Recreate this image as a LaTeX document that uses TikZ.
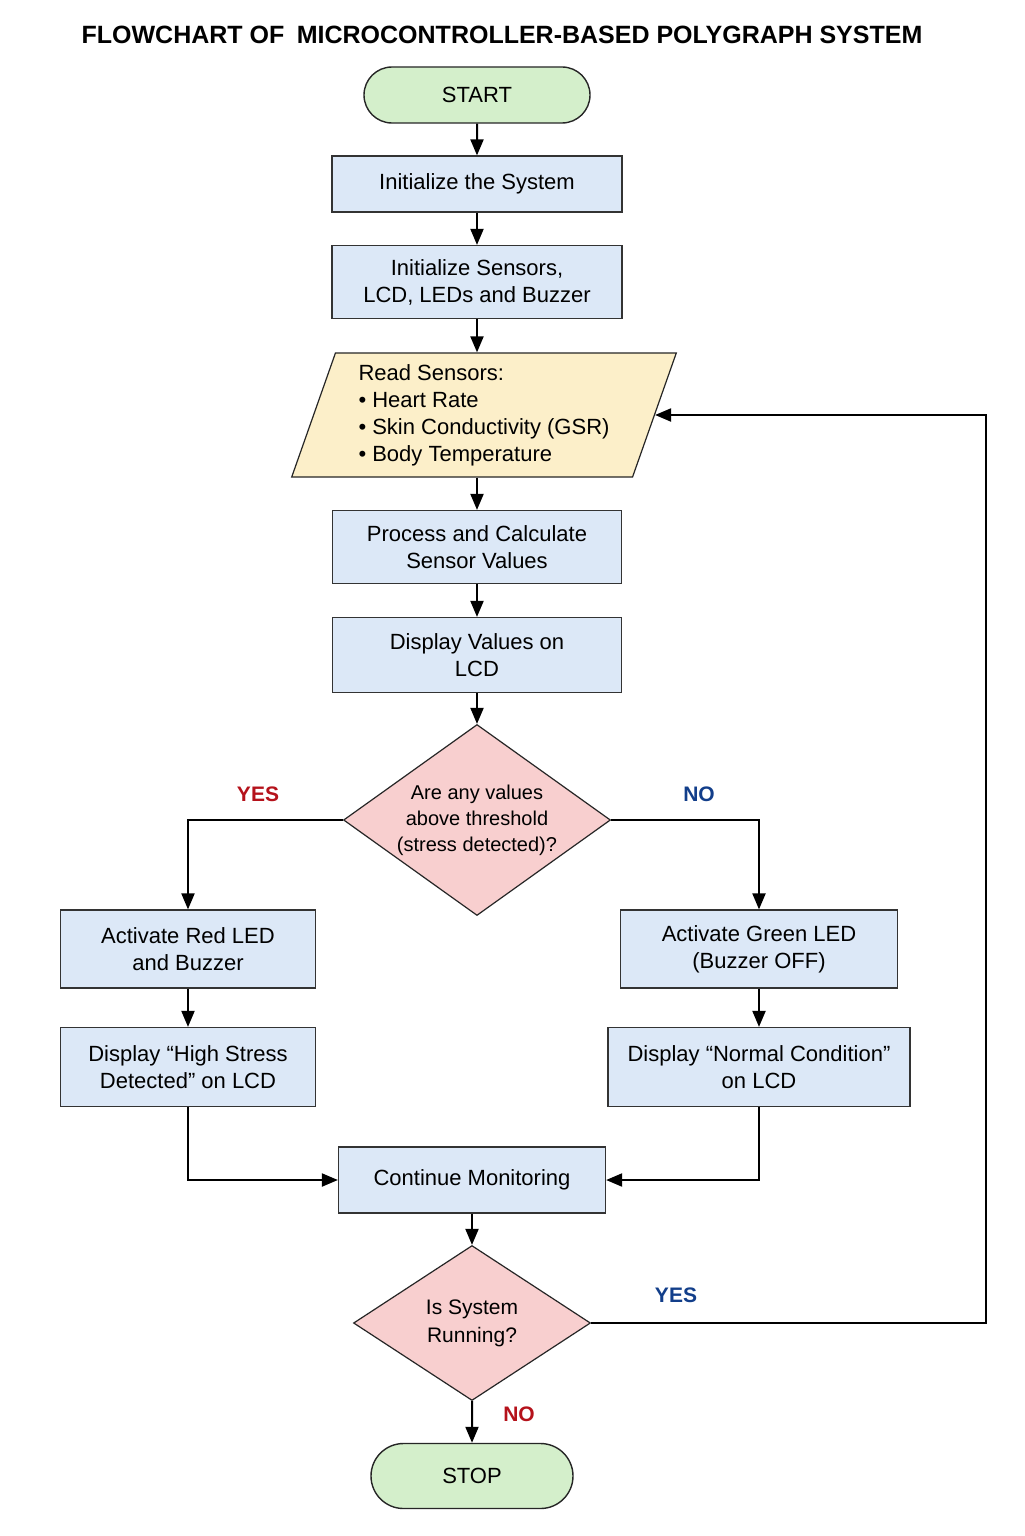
\documentclass[tikz,border=0pt]{standalone}
\usepackage{fontspec}
\setmainfont{Liberation Sans}
\usetikzlibrary{shapes.geometric,shapes.misc,arrows.meta}

\definecolor{procblue}{HTML}{DCE8F7}
\definecolor{inyellow}{HTML}{FCEFC9}
\definecolor{decpink}{HTML}{F8CFCF}
\definecolor{termgreen}{HTML}{D4EFCB}
\definecolor{yesred}{HTML}{B5121B}
\definecolor{noblue}{HTML}{123E8A}

\begin{document}
\begin{tikzpicture}[x=0.5pt,y=-0.5pt,
  every node/.style={font=\fontsize{11}{13.5}\selectfont},
  proc/.style={draw=black!80, line width=0.6pt, fill=procblue, align=center, inner sep=0pt},
  term/.style={rounded rectangle, draw=black!85, line width=0.7pt, fill=termgreen, inner sep=0pt},
  io/.style={trapezium, trapezium left angle=70, trapezium right angle=110, trapezium stretches=true,
    draw=black!85, line width=0.6pt, fill=inyellow, align=left, inner sep=0pt},
  dec/.style={diamond, aspect=1.4, draw=black!85, line width=0.6pt, fill=decpink, align=center,
    inner sep=0pt, font=\fontsize{10}{13}\selectfont},
  yes/.style={text=yesred, font=\bfseries\fontsize{10.5}{12}\selectfont},
  no/.style={text=noblue, font=\bfseries\fontsize{10.5}{12}\selectfont},
  line/.style={line width=1pt, -{Triangle[length=8pt,width=6.5pt]}}]
\fill[white] (0,0) rectangle (1024,1536);
\useasboundingbox (0,0) rectangle (1024,1536);

\node[font=\bfseries\fontsize{12.5}{15}\selectfont] (title) at (502,35)
  {FLOWCHART OF\enspace MICROCONTROLLER-BASED POLYGRAPH SYSTEM};

% main column
\node[term, minimum width=113pt, minimum height=28pt] (start) at (477,95) {START};
\node[proc, minimum width=145pt, minimum height=28pt] (init) at (477,184) {Initialize the System};
\node[proc, minimum width=145pt, minimum height=36.5pt] (sens) at (477,282) {Initialize Sensors,\\LCD, LEDs and Buzzer};
\node[io, minimum width=192.5pt, minimum height=62pt] (read) at (484,415)
  {Read Sensors:\\• Heart Rate\\• Skin Conductivity (GSR)\\• Body Temperature};
\node[proc, minimum width=144.5pt, minimum height=36.5pt] (calc) at (477,547) {Process and Calculate\\Sensor Values};
\node[proc, minimum width=144.5pt, minimum height=37.5pt] (show) at (477,655) {Display Values on\\LCD};
\node[dec, minimum width=133.5pt, minimum height=95.5pt] (stress) at (477,820)
  {Are any values\\above threshold\\(stress detected)?};

% branches
\node[proc, minimum width=127.5pt, minimum height=39pt] (red) at (188,949) {Activate Red LED\\and Buzzer};
\node[proc, minimum width=138.5pt, minimum height=39pt] (green) at (759,949) {Activate Green LED\\(Buzzer OFF)};
\node[proc, minimum width=127.5pt, minimum height=39.5pt] (high) at (188,1067) {Display “High Stress\\Detected” on LCD};
\node[proc, minimum width=151pt, minimum height=39.5pt] (normal) at (759,1067) {Display “Normal Condition”\\on LCD};

\node[proc, minimum width=133.5pt, minimum height=33pt] (cont) at (472,1180) {Continue Monitoring};
\node[dec, minimum width=118.5pt, minimum height=77.5pt, font=\fontsize{10.5}{14}\selectfont] (run) at (472,1323)
  {Is System\\Running?};
\node[term, minimum width=101pt, minimum height=32.5pt] (stop) at (472,1476) {STOP};

\node[yes] (yes1) at (258,794) {YES};
\node[no] (no1) at (699,794) {NO};
\node[no] (yes2) at (676,1295) {YES};
\node[yes] (no2) at (519,1414) {NO};

\draw[line] (start) -- (init);
\draw[line] (init) -- (sens);
\draw[line] (sens.south) -- (sens.south |- read.north);
\draw[line] (calc.north |- read.south) -- (calc.north);
\draw[line] (calc) -- (show);
\draw[line] (show) -- (stress);
\draw[line] (stress.west) -| (red.north);
\draw[line] (stress.east) -| (green.north);
\draw[line] (red) -- (high);
\draw[line] (green) -- (normal);
\draw[line] (high.south) |- (cont.west);
\draw[line] (normal.south) |- (cont.east);
\draw[line] (cont) -- (run);
\draw[line] (run) -- (stop);
\draw[line] (run.east) -- ++(395,0) |- (read.east);
\end{tikzpicture}
\end{document}
